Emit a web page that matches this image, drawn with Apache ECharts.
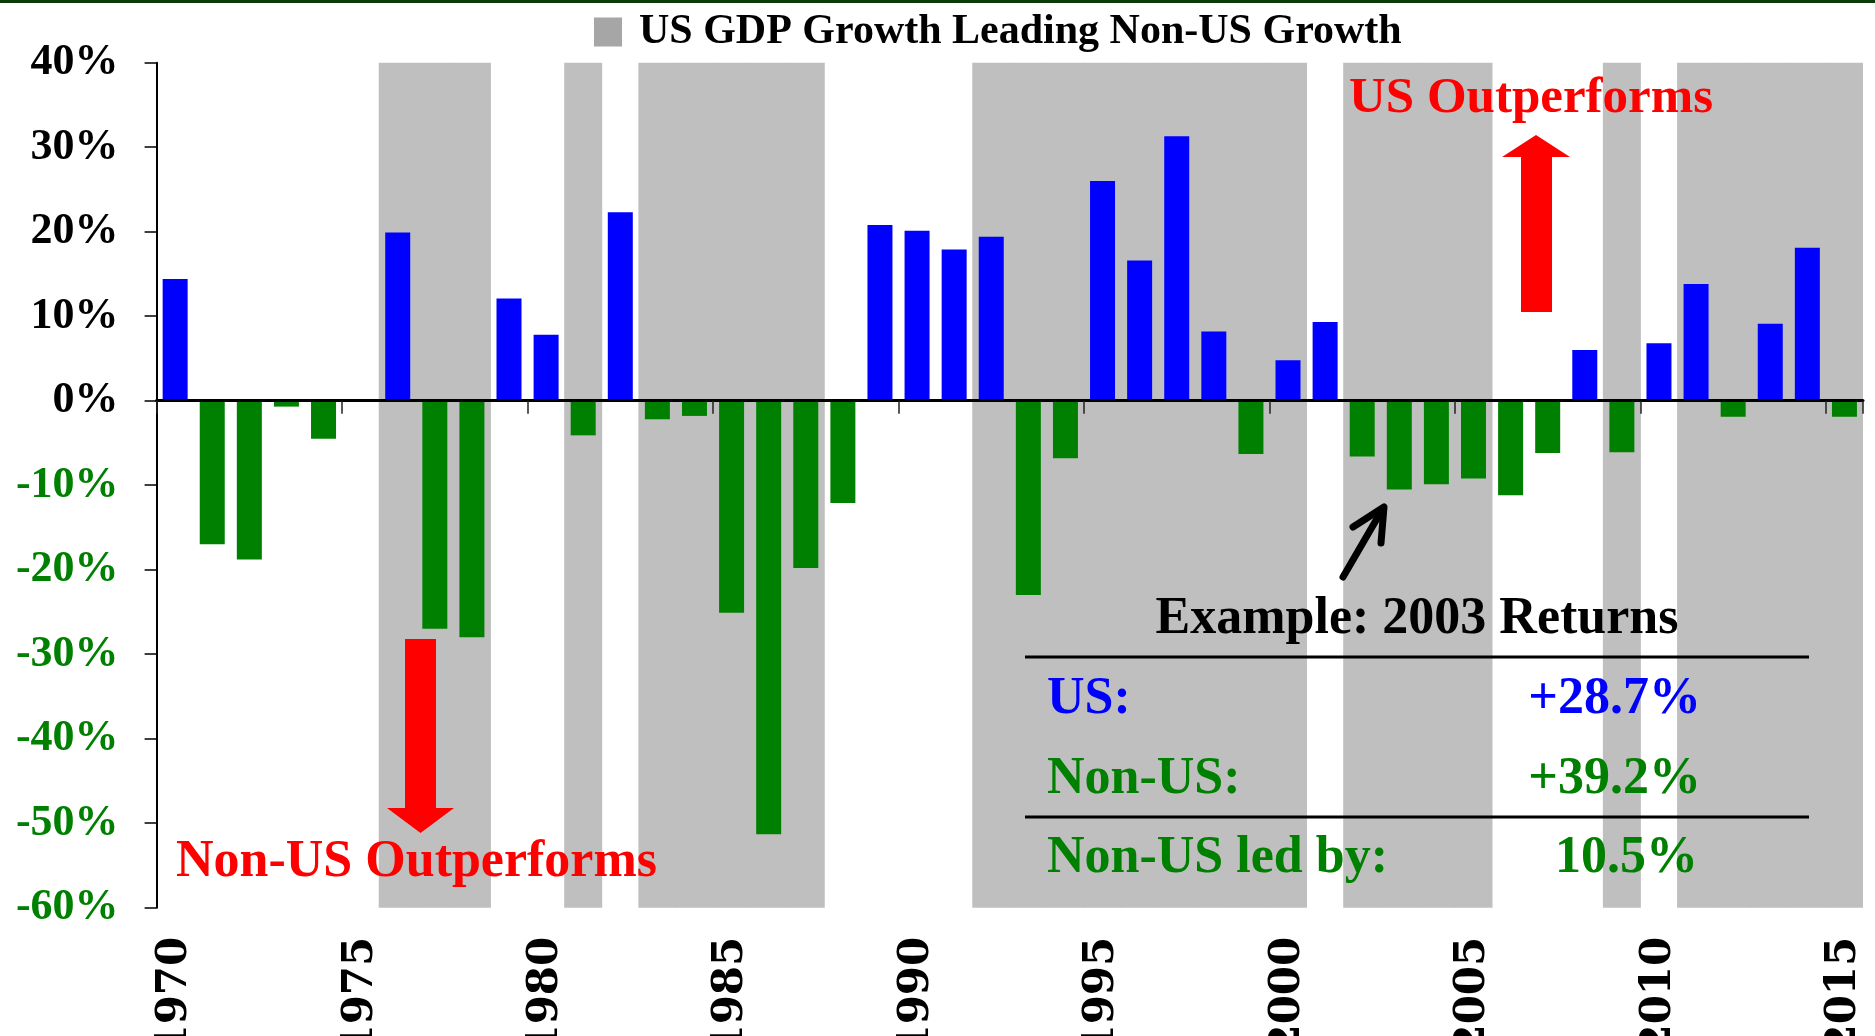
<!DOCTYPE html>
<html>
<head>
<meta charset="utf-8">
<script src="https://cdn.jsdelivr.net/npm/echarts@6/dist/echarts.min.js"></script>
<style>
  html, body { margin: 0; padding: 0; background: #fff; }
  #chart { width: 1875px; height: 1036px; }
</style>
</head>
<body>
<div id="chart"></div>
<script>
// US minus non-US calendar-year return, in %
const years = ['1970', '1971', '1972', '1973', '1974', '1975', '1976', '1977', '1978', '1979',
  '1980', '1981', '1982', '1983', '1984', '1985', '1986', '1987', '1988', '1989',
  '1990', '1991', '1992', '1993', '1994', '1995', '1996', '1997', '1998', '1999',
  '2000', '2001', '2002', '2003', '2004', '2005', '2006', '2007', '2008', '2009',
  '2010', '2011', '2012', '2013', '2014', '2015']
const relReturn = [14.4, -17.0, -18.8, -0.7, -4.5, 0, 19.9, -27.0, -28.0, 12.1,
  7.8, -4.1, 22.3, -2.2, -1.8, -25.1, -51.3, -19.8, -12.1, 20.8,
  20.1, 17.9, 19.4, -23.0, -6.8, 26.0, 16.6, 31.3, 8.2, -6.3,
  4.8, 9.3, -6.6, -10.5, -9.9, -9.2, -11.2, -6.2, 6.0, -6.1,
  6.8, 13.8, -1.9, 9.1, 18.1, -1.9]
// years where US GDP growth beat non-US growth (grey bands)
const shadedYears = ['1976', '1977', '1978', '1981', '1983', '1984', '1985', '1986', '1987',
  '1992', '1993', '1994', '1995', '1996', '1997', '1998', '1999', '2000',
  '2002', '2003', '2004', '2005', '2009', '2011', '2012', '2013', '2014', '2015']
const yMin = -60
const yMax = 40

const shadeName = 'US GDP Growth Leading Non-US Growth'
const BLUE = '#0000FF'
const GREEN = '#008000'
const RED = '#FF0000'
const SHADE = '#BFBFBF'
const SERIF = '"Liberation Serif", "Times New Roman", serif'

const shadeTop = years.map(y => (shadedYears.includes(y) ? yMax : '-'))
const shadeBottom = years.map(y => (shadedYears.includes(y) ? yMin : '-'))

const chart = echarts.init(document.getElementById('chart'))

function txt(text, x, y, color, size, align) {
  return {
    type: 'text', x: x, y: y, z: 100,
    style: {
      text: text, fill: color, font: 'bold ' + size + 'px ' + SERIF,
      align: align || 'left', textAlign: align || 'left',
      verticalAlign: 'middle', textVerticalAlign: 'middle',
    },
  }
}

chart.setOption({
  animation: false,
  backgroundColor: '#fff',
  legend: {
    left: 589, top: 6,
    itemWidth: 28, itemHeight: 29,
    icon: 'rect',
    data: [{ name: shadeName, itemStyle: { color: '#A6A6A6' } }],
    textStyle: { fontFamily: SERIF, fontWeight: 'bold', fontSize: 42, color: '#000', padding: [0, 0, 0, 12] },
  },
  grid: { left: 156.6, right: 12, top: 62.7, bottom: 128.3, containLabel: false, outerBoundsMode: 'none' },
  xAxis: [
    {
      type: 'category',
      data: years,
      z: 5,
      axisLine: { onZero: true, lineStyle: { color: '#000', width: 3 } },
      axisTick: { show: true, interval: 4, length: 13, lineStyle: { color: '#222', width: 1.5 } },
      axisLabel: { show: false },
      splitLine: { show: false },
    },
    {
      type: 'category',
      data: years,
      position: 'bottom',
      axisLine: { show: false, onZero: false },
      axisTick: { show: false },
      axisLabel: {
        interval: 4, rotate: 90, margin: 29,
        fontFamily: '"DejaVu Serif", serif', fontWeight: 'bold', fontSize: 42, color: '#000',
      },
      splitLine: { show: false },
    },
  ],
  yAxis: {
    type: 'value',
    min: yMin, max: yMax, interval: 10,
    axisLine: { show: true, lineStyle: { color: '#000', width: 2 } },
    axisTick: { show: true, length: 12, lineStyle: { color: '#000', width: 1.5 } },
    splitLine: { show: false },
    axisLabel: {
      formatter: '{value}%', margin: 38,
      fontFamily: SERIF, fontWeight: 'bold', fontSize: 44,
      color: (v) => (Number(v) < 0 ? GREEN : '#000'),
    },
  },
  series: [
    {
      name: shadeName, type: 'bar', xAxisIndex: 1,
      data: shadeTop, barWidth: 38, barGap: '-100%',
      itemStyle: { color: SHADE }, silent: true, z: 1,
    },
    {
      name: shadeName, type: 'bar', xAxisIndex: 1,
      data: shadeBottom, barWidth: 38, barGap: '-100%',
      itemStyle: { color: SHADE }, silent: true, z: 1,
    },
    {
      name: 'US minus Non-US', type: 'bar', xAxisIndex: 0,
      data: relReturn, barWidth: '67.4%',
      itemStyle: { color: (p) => (p.value >= 0 ? BLUE : GREEN) },
      z: 3,
    },
  ],
  graphic: [
    // dark green rule at the top of the slide
    { type: 'rect', shape: { x: 0, y: 0, width: 1875, height: 3 }, style: { fill: '#0B3B0B' }, z: 100 },
    // US Outperforms arrow
    {
      type: 'polygon', z: 100,
      shape: { points: [[1521, 312], [1521, 157], [1502, 157], [1536, 135], [1570, 157], [1552, 157], [1552, 312]] },
      style: { fill: RED },
    },
    txt('US Outperforms', 1349, 99, RED, 51),
    // Non-US Outperforms arrow
    {
      type: 'polygon', z: 100,
      shape: { points: [[405, 639], [436, 639], [436, 808], [454, 808], [420.5, 833], [387, 808], [405, 808]] },
      style: { fill: RED },
    },
    txt('Non-US Outperforms', 176, 863, RED, 52),
    // pointer to 2003
    {
      type: 'line', z: 100,
      shape: { x1: 1343, y1: 577, x2: 1382, y2: 510 },
      style: { stroke: '#000', lineWidth: 7, lineCap: 'round' },
    },
    {
      type: 'polyline', z: 100,
      shape: { points: [[1353, 527], [1384, 507], [1381, 543]] },
      style: { stroke: '#000', lineWidth: 7, lineCap: 'round', lineJoin: 'round', fill: null },
    },
    // 2003 example table
    txt('Example: 2003 Returns', 1417, 620, '#000', 52, 'center'),
    { type: 'line', z: 100, shape: { x1: 1025, y1: 657, x2: 1809, y2: 657 }, style: { stroke: '#000', lineWidth: 3 } },
    txt('US:', 1047, 700, BLUE, 52),
    txt('+28.7%', 1701, 700, BLUE, 52, 'right'),
    txt('Non-US:', 1047, 780, GREEN, 52),
    txt('+39.2%', 1701, 780, GREEN, 52, 'right'),
    { type: 'line', z: 100, shape: { x1: 1025, y1: 817, x2: 1809, y2: 817 }, style: { stroke: '#000', lineWidth: 3 } },
    txt('Non-US led by:', 1047, 859, GREEN, 52),
    txt('10.5%', 1698, 859, GREEN, 52, 'right'),
  ],
})
</script>
</body>
</html>
